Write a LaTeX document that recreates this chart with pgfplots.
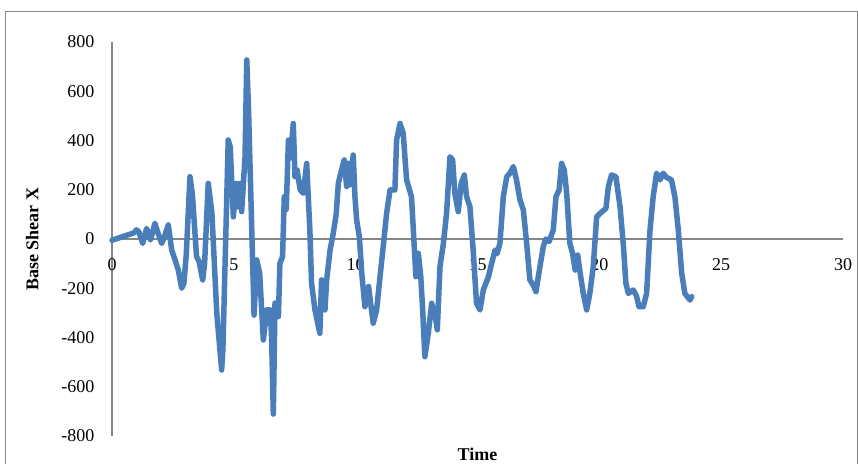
\documentclass[border=0pt]{standalone}
\usepackage{pgfplots}
\pgfplotsset{compat=1.18}
\usepackage{fontspec}
\setmainfont{Liberation Serif}
\definecolor{exblue}{HTML}{4A7EBB}
\definecolor{axgray}{HTML}{868686}
\begin{document}
\begin{tikzpicture}[x=1pt,y=1pt]
\useasboundingbox (0,0) rectangle (858,463);
\draw[axgray, line width=1pt] (5,-20) -- (5,451) -- (857,451) -- (857,-20);
\begin{axis}[
  at={(112pt,27pt)}, anchor=south west,
  scale only axis, width=731pt, height=394pt,
  xmin=0, xmax=30, ymin=-800, ymax=800,
  axis x line=middle, axis y line=left,
  hide obscured x ticks=false, hide obscured y ticks=false,
  axis line style={axgray, line width=1.3pt, -},
  xtick={0,5,...,30}, ytick={-800,-600,...,800},
  major tick length=0pt,
  font=\fontsize{18}{20}\selectfont,
  /pgf/number format/assume math mode=true,
  xticklabel style={anchor=north, yshift=-16pt},
  yticklabel style={anchor=east, xshift=-14pt},
  xlabel={\bfseries Time},
  ylabel={\bfseries Base Shear X},
  every axis x label/.style={at={(axis description cs:0.5,-0.046)}, anchor=center},
  every axis y label/.style={at={(axis description cs:-0.109,0.5)}, rotate=90, anchor=center},
  clip=false,
]
\addplot[exblue, line width=5.5pt, line join=round, line cap=round] coordinates {
(0,-5) (0.3,5) (0.6,15) (0.9,25) (1.0,37) (1.1,30) (1.26,-18) (1.42,43) (1.58,-4)
(1.76,64) (1.9,20) (2.04,-18) (2.15,10) (2.31,57) (2.45,-45) (2.59,-85) (2.72,-126)
(2.86,-200) (2.95,-180) (3.05,-60) (3.2,253) (3.3,180) (3.47,-72) (3.57,-90)
(3.72,-166) (3.8,-100) (3.95,226) (4.1,105) (4.3,-302) (4.5,-532) (4.55,-450)
(4.77,402) (4.85,375) (4.98,90) (5.09,226) (5.18,130) (5.25,226) (5.32,111)
(5.46,334) (5.53,727) (5.6,537) (5.83,-309) (5.94,-85) (6.06,-139) (6.21,-410)
(6.35,-288) (6.49,-288) (6.55,-400) (6.62,-711) (6.69,-260) (6.83,-315) (6.89,-99)
(7.0,-72) (7.07,172) (7.15,120) (7.24,402) (7.32,330) (7.44,469) (7.51,253)
(7.6,280) (7.72,200) (7.85,186) (7.99,307) (8.12,37) (8.19,-180) (8.33,-288)
(8.53,-383) (8.6,-166) (8.74,-288) (8.81,-166) (8.95,-45) (9.08,23) (9.2,100)
(9.29,226) (9.35,253) (9.53,321) (9.63,213) (9.7,307) (9.77,220) (9.9,341)
(9.97,172) (10.04,77) (10.15,10) (10.25,-139) (10.38,-275) (10.53,-193) (10.6,-250)
(10.72,-342) (10.86,-288) (11.0,-153) (11.13,-31) (11.27,104) (11.41,199)
(11.61,199) (11.68,402) (11.82,469) (11.95,430) (12.09,240) (12.29,172) (12.36,50)
(12.47,-153) (12.57,-58) (12.67,-150) (12.75,-288) (12.84,-478) (12.98,-383)
(13.12,-261) (13.27,-315) (13.35,-369) (13.46,-112) (13.6,-18) (13.73,104)
(13.87,334) (13.98,321) (14.07,186) (14.21,111) (14.33,226) (14.46,260) (14.55,172)
(14.69,131) (14.83,-58) (14.96,-261) (15.1,-288) (15.24,-207) (15.45,-153)
(15.58,-99) (15.72,-45) (15.8,-60) (15.92,-18) (16.06,172) (16.2,253) (16.33,267)
(16.47,294) (16.6,240) (16.74,160) (16.88,118) (17.01,-10) (17.15,-166) (17.3,-190)
(17.4,-214) (17.5,-150) (17.7,-31) (17.8,0) (17.94,-10) (18.11,37) (18.22,172)
(18.35,199) (18.45,307) (18.56,280) (18.66,186) (18.79,-18) (18.9,-58) (19.01,-126)
(19.11,-65) (19.2,-130) (19.34,-221) (19.48,-288) (19.61,-221) (19.75,-112)
(19.89,90) (20.03,104) (20.27,124) (20.37,212) (20.5,260) (20.68,253) (20.85,131)
(20.99,-31) (21.09,-180) (21.19,-221) (21.39,-207) (21.52,-230) (21.63,-275)
(21.8,-275) (21.94,-221) (22.08,37) (22.21,172) (22.35,267) (22.49,240) (22.62,267)
(22.76,250) (22.96,240) (23.1,172) (23.24,37) (23.38,-139) (23.51,-221) (23.72,-248)
(23.79,-234)
};
\end{axis}
\end{tikzpicture}
\end{document}
